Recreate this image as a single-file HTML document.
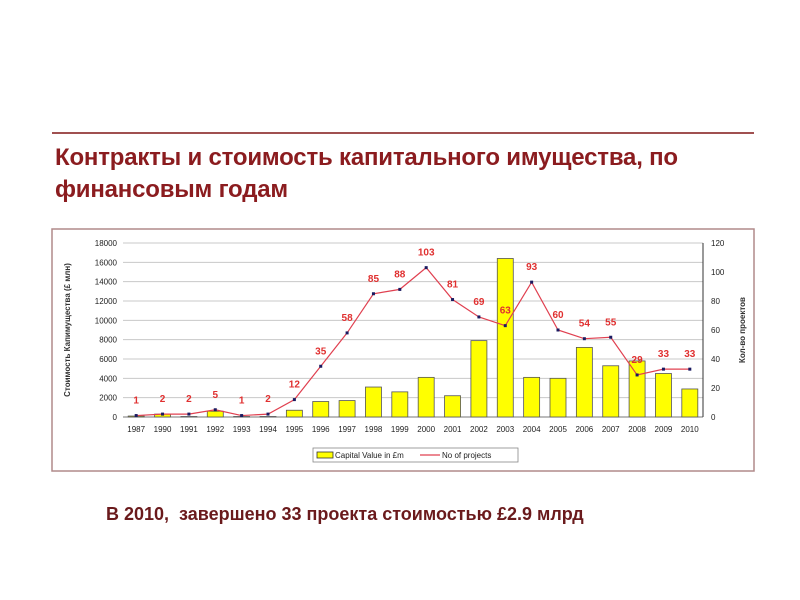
<!DOCTYPE html>
<html><head><meta charset="utf-8"><style>
body{margin:0;width:800px;height:600px;background:#fff;position:relative;overflow:hidden;font-family:"Liberation Sans",sans-serif}
.t{position:absolute;left:55px;top:142px;font-size:24px;font-weight:bold;color:#8b1c1f;line-height:32px;letter-spacing:-0.2px}
.b{position:absolute;left:106px;top:504px;font-size:18px;font-weight:bold;color:#6a1a1c}
</style></head><body>
<div style="position:absolute;left:52px;top:132px;width:702px;height:2px;background:#a05050"></div>
<div class="t">Контракты и стоимость капитального имущества, по<br>финансовым годам</div>
<svg id="c" width="800" height="600" style="position:absolute;left:0;top:0" font-family="Liberation Sans, sans-serif"></svg>
<div class="b">В 2010,&nbsp; завершено 33 проекта стоимостью £2.9 млрд</div>
<script>
const years=["1987","1990","1991","1992","1993","1994","1995","1996","1997","1998","1999","2000","2001","2002","2003","2004","2005","2006","2007","2008","2009","2010"];
const capital=[100,300,50,600,50,50,700,1600,1700,3100,2600,4100,2200,7900,16400,4100,4000,7200,5300,5800,4500,2900];
const projects=[1,2,2,5,1,2,12,35,58,85,88,103,81,69,63,93,60,54,55,29,33,33];
const leftTicks=[0,2000,4000,6000,8000,10000,12000,14000,16000,18000];
const rightTicks=[0,20,40,60,80,100,120];
const NS="http://www.w3.org/2000/svg",svg=document.getElementById('c');
function mk(t,a,p){const e=document.createElementNS(NS,t);for(const k in a)e.setAttribute(k,a[k]);(p||svg).appendChild(e);return e;}
const L=123,R=703,T=243,B=417,n=years.length,bw=(R-L)/n;
const xc=i=>L+bw*(i+0.5), yl=v=>B-(B-T)*v/18000, yr=v=>B-(B-T)*v/120;
let e=mk('rect',{x:52,y:229,width:702,height:242,fill:'#fff',stroke:'#b08a8a','stroke-width':1.5});

leftTicks.forEach(v=>{
 e=mk('line',{x1:L,x2:R,y1:yl(v),y2:yl(v),stroke:v?'#c8c8c8':'#777'});
 
 e=mk('text',{x:L-6,y:yl(v)+3,'font-size':8,'text-anchor':'end',fill:'#222'});e.textContent=v;
 
});
rightTicks.forEach(v=>{
 e=mk('text',{x:R+8,y:yr(v)+3,'font-size':8,fill:'#222'});e.textContent=v;
 
});
mk('line',{x1:R,x2:R,y1:T,y2:B,stroke:'#333'});
capital.forEach((v,i)=>{
 e=mk('rect',{x:xc(i)-8,y:yl(v),width:16,height:B-yl(v),fill:'#ffff00',stroke:'#555','stroke-width':0.8});
 
 e=mk('text',{x:xc(i),y:B+15,'font-size':8,'text-anchor':'middle',fill:'#222'});e.textContent=years[i];
 
});
e=mk('polyline',{points:projects.map((v,i)=>xc(i)+','+yr(v)).join(' '),fill:'none',stroke:'#e04050','stroke-width':1.2});

projects.forEach((v,i)=>{
 e=mk('rect',{x:xc(i)-1.5,y:yr(v)-1.5,width:3,height:3,fill:'#1a1a60'});
 
 e=mk('text',{x:xc(i),y:yr(v)-12,'font-size':10,'font-weight':'bold','text-anchor':'middle',fill:'#e03030'});e.textContent=v;
 
});
e=mk('text',{transform:'translate(70,330) rotate(-90)','font-size':8,'font-weight':'bold','text-anchor':'middle',fill:'#333'});e.textContent='Стоимость Капимущества (£ млн)';

e=mk('text',{transform:'translate(745,330) rotate(-90)','font-size':8,'font-weight':'bold','text-anchor':'middle',fill:'#333'});e.textContent='Кол-во проектов';

const g=mk('g',{});
mk('rect',{x:313,y:448,width:205,height:14,fill:'#fff',stroke:'#888','stroke-width':0.8},g);
mk('rect',{x:317,y:452,width:16,height:6,fill:'#ff0',stroke:'#333','stroke-width':0.8},g);
e=mk('text',{x:335,y:458,'font-size':8,fill:'#222'},g);e.textContent='Capital Value in £m';
mk('line',{x1:420,x2:440,y1:455,y2:455,stroke:'#e04050','stroke-width':1.2},g);
e=mk('text',{x:442,y:458,'font-size':8,fill:'#222'},g);e.textContent='No of projects';
</script>
</body></html>
